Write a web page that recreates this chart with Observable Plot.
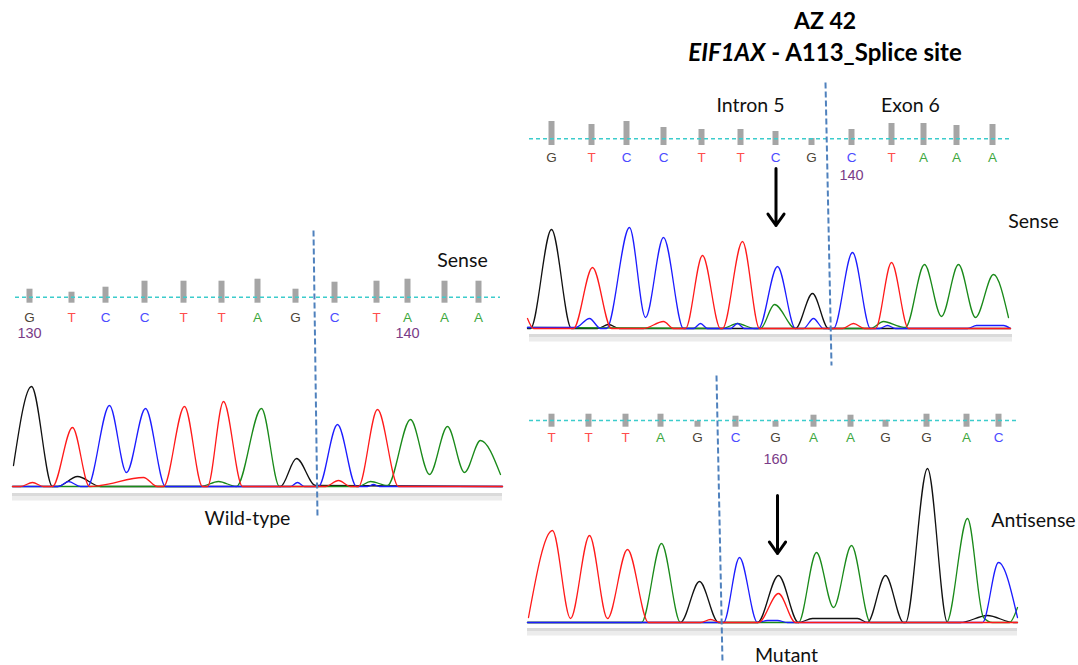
<!DOCTYPE html>
<html><head><meta charset="utf-8">
<script src="https://cdn.jsdelivr.net/npm/d3@7"></script>
<script src="https://cdn.jsdelivr.net/npm/@observablehq/plot@0.6"></script>
<style>
body{margin:0;background:#fff;}
#page{position:relative;width:1078px;height:665px;overflow:hidden;font-family:Lato,"Open Sans",sans-serif;}
#title{position:absolute;left:575px;width:500px;top:4px;text-align:center;font-weight:bold;font-size:23px;line-height:32px;color:#000;}
#title .l2{font-size:24px;}
</style></head><body>
<div id="page"><div id="title">AZ 42<br><span class="l2"><i>EIF1AX</i> - A113_Splice site</span></div></div>
<script>
// ---------- DATA ----------
// Wild-type (sense)
const wtCalls    = ["G","T","C","C","T","T","A","G","C","T","A","A","A"];
const wtCallScan = [17,59,93,132,171,209,245,283,322,364,395,432,466];
const wtQuality  = [14,11,16,22,22,22,24,14,21,22,24,22,22];
const wtFirstBase = 130;
const wtTraceG = [[1,21],[19,100],[40,0],[45,0],[65,10],[88,0],[268,0],[284,28],[303,1],[490,0]];
const wtTraceA = [[0,0],[188,0],[206,5],[224,0],[249,78],[267,0],[346,0],[358,5],[375,1],[398,67],[417,12],[435,60],[452,14],[468,46],[488,12]];
const wtTraceC = [[0,0],[46,0],[56,5],[68,0],[75,0],[97,81],[114,14],[133,78],[153,0],[278,0],[285,4],[292,0],[306,0],[325,62],[344,0],[355,0],[361,2],[367,0],[490,0]];
const wtTraceT = [[0,0],[8,0],[20,4],[31,0],[40,0],[60,59],[77,0],[88,1],[131,9],[145,0],[151,0],[172,80],[190,0],[195,0],[211,85],[230,0],[313,0],[326,6],[338,0],[346,0],[365,77],[386,0],[490,0]];

// Mutant, sense
const msCalls    = ["G","T","C","C","T","T","C","G","C","T","A","A","A"];
const msCallScan = [24,64,99,136,174,213,248,284,324,364,396,429,465];
const msQuality  = [24,21,24,18,16,16,14,7,16,22,22,20,21];
const msFirstBase = 132;
const msTraceG = [[0,0],[3,0],[24,99],[44,0],[70,0],[81,4],[92,0],[268,0],[285,35],[301,0],[483,0]];
const msTraceA = [[0,1],[195,0],[210,5],[227,0],[233,0],[247,24],[268,0],[343,0],[356,7],[372,2],[378,1],[397,64],[414,12],[431,64],[448,11],[466,54],[481,11]];
const msTraceC = [[0,1],[48,1],[62,10],[73,0],[79,0],[102,101],[118,11],[136,91],[156,0],[166,0],[173,5],[180,0],[203,0],[210,5],[217,0],[231,0],[250,62],[268,0],[276,0],[286,10],[296,0],[306,0],[325,76],[343,0],[352,0],[360,3],[368,0],[440,0],[449,3],[476,3],[483,0]];
const msTraceT = [[0,10],[6,0],[46,0],[65,61],[84,0],[116,0],[136,7],[146,0],[158,0],[175,73],[193,0],[195,0],[215,87],[232,0],[315,0],[326,5],[337,0],[348,0],[364,66],[381,0],[483,0]];

// Mutant, antisense
const maCalls    = ["T","T","T","A","G","C","G","A","A","G","G","A","C"];
const maCallScan = [24,61,98,133,170,208,248,286,323,358,399,439,471];
const maQuality  = [13,13,13,13,6,11,6,12,12,7,13,13,13];
const maFirstBase = 154;
const maTraceG = [[0,0],[153,0],[172,41],[191,0],[230,0],[251,47],[271,0],[285,4],[330,4],[340,0],[358,47],[376,0],[378,0],[400,154],[420,0],[433,0],[460,7],[486,0],[490,0]];
const maTraceA = [[0,0],[114,0],[134,79],[153,0],[271,0],[289,70],[306,15],[324,77],[343,0],[419,0],[440,104],[456,5],[465,0],[482,0],[490,15]];
const maTraceC = [[0,0],[196,0],[212,65],[230,0],[240,2],[250,2],[260,0],[455,0],[471,60],[490,5]];
const maTraceT = [[1,5],[25,92],[43,4],[62,87],[80,4],[100,73],[121,0],[173,0],[183,3],[193,0],[231,0],[251,29],[268,0],[490,0]];

// ---------- STYLE / LAYOUT ----------
const TRACE_COLORS = {A:"#1a8a1a", C:"#1c1cff", G:"#111111", T:"#ff1a1a"};
const CALL_COLORS  = {A:"#3fa83f", C:"#4b4bff", G:"#4d4438", T:"#ff4d4d"};
const LABEL_FONT = "Lato, 'Open Sans', sans-serif";
const CALL_FONT = "'Liberation Sans', Arial, sans-serif";

const panels = [
  {
    left: 0, top: 225, width: 515, height: 300, xDomain: [-12, 503], yDomain: [-39, 261],
    calls: wtCalls, callScan: wtCallScan, quality: wtQuality, firstBase: wtFirstBase,
    traces: {G: wtTraceG, A: wtTraceA, C: wtTraceC, T: wtTraceT},
    layout: {cyan: 189.3, barBottom: 183.3, letter: 169.3, number: 153.5, line: [3, 488], band: [0, 490], bandTop: -7},
    boundary: {x1: 301, y1: 256, x2: 305, y2: -31},
    arrows: [],
    labels: [{x: 450, y: 226, text: "Sense"}, {x: 235, y: -32, text: "Wild-type"}]
  },
  {
    left: 520, top: 75, width: 558, height: 300, xDomain: [-7, 551], yDomain: [-47, 253],
    calls: msCalls, callScan: msCallScan, quality: msQuality, firstBase: msFirstBase,
    traces: {G: msTraceG, A: msTraceA, C: msTraceC, T: msTraceT},
    layout: {cyan: 189.7, barBottom: 183, letter: 171.3, number: 153, line: [2, 485], band: [2, 485], bandTop: -6},
    boundary: {x1: 298, y1: 246, x2: 304, y2: -37},
    arrows: [{base: 6, dx: 0.5, y1: 160, y2: 103}],
    labels: [{x: 223, y: 223, text: "Intron 5"}, {x: 383, y: 223, text: "Exon 6"}, {x: 506, y: 107, text: "Sense"}]
  },
  {
    left: 520, top: 370, width: 558, height: 295, xDomain: [-7, 551], yDomain: [-43, 252],
    calls: maCalls, callScan: maCallScan, quality: maQuality, firstBase: maFirstBase,
    traces: {G: maTraceG, A: maTraceA, C: maTraceC, T: maTraceT},
    layout: {cyan: 202, barBottom: 195.3, letter: 185, number: 163, line: [2, 491], band: [0, 490], bandTop: -6},
    boundary: {x1: 189, y1: 247, x2: 195, y2: -40},
    arrows: [{base: 6, dx: 2, y1: 127, y2: 69}],
    labels: [{x: 506, y: 102, text: "Antisense"}, {x: 259, y: -33, text: "Mutant"}]
  }
];

function drawPanel(p) {
  const rows = [];
  for (const ch of ["G", "A", "C", "T"]) for (const [scan, signal] of p.traces[ch]) rows.push({ch, scan, signal});
  const calls = p.calls.map((b, i) => ({b, scan: p.callScan[i], q: p.quality[i], num: p.firstBase + i}));
  const L = p.layout;
  const arrows = p.arrows.map(a => ({x: calls[a.base].scan + a.dx, y1: a.y1, y2: a.y2}));
  const chart = Plot.plot({
    width: p.width, height: p.height,
    marginTop: 0, marginRight: 0, marginBottom: 0, marginLeft: 0,
    x: {domain: p.xDomain, axis: null},
    y: {domain: p.yDomain, axis: null},
    color: {type: "identity"},
    style: {background: "transparent", overflow: "visible"},
    marks: [
      Plot.rect([0], {x1: L.band[0], x2: L.band[1], y1: L.bandTop, y2: L.bandTop - 3.5, fill: "#dadada"}),
      Plot.rect([0], {x1: L.band[0], x2: L.band[1], y1: L.bandTop - 3.5, y2: L.bandTop - 7.5, fill: "#ececec"}),
      Plot.ruleX(calls, {x: "scan", y1: L.barBottom, y2: d => L.barBottom + d.q, stroke: "#a5a5a5", strokeWidth: 6}),
      Plot.ruleY([L.cyan], {x1: L.line[0], x2: L.line[1], stroke: "#3ccccc", strokeWidth: 1.4, strokeDasharray: "4,3"}),
      Plot.text(calls, {x: "scan", y: L.letter, text: "b", fill: d => CALL_COLORS[d.b], fontSize: 13.5, fontFamily: CALL_FONT}),
      Plot.text(calls.filter(d => d.num % 10 === 0), {x: "scan", y: L.number, text: d => String(d.num), fill: "#7a3b87", fontSize: 14.5, fontFamily: CALL_FONT}),
      Plot.line(rows, {x: "scan", y: "signal", z: "ch", stroke: d => TRACE_COLORS[d.ch], strokeWidth: 1.3, curve: "monotone-x"}),
      Plot.link([p.boundary], {x1: "x1", y1: "y1", x2: "x2", y2: "y2", stroke: "#4f81bd", strokeWidth: 2, strokeDasharray: "6,3"}),
      Plot.arrow(arrows, {x1: "x", y1: "y1", x2: "x", y2: "y2", stroke: "#000", strokeWidth: 3, headLength: 7, headAngle: 70}),
      Plot.text(p.labels, {x: "x", y: "y", text: "text", fontSize: 19.5, fontFamily: LABEL_FONT, fill: "#111"})
    ]
  });
  chart.style.position = "absolute";
  chart.style.left = p.left + "px";
  chart.style.top = p.top + "px";
  document.getElementById("page").appendChild(chart);
}
panels.forEach(drawPanel);
</script>
</body></html>
